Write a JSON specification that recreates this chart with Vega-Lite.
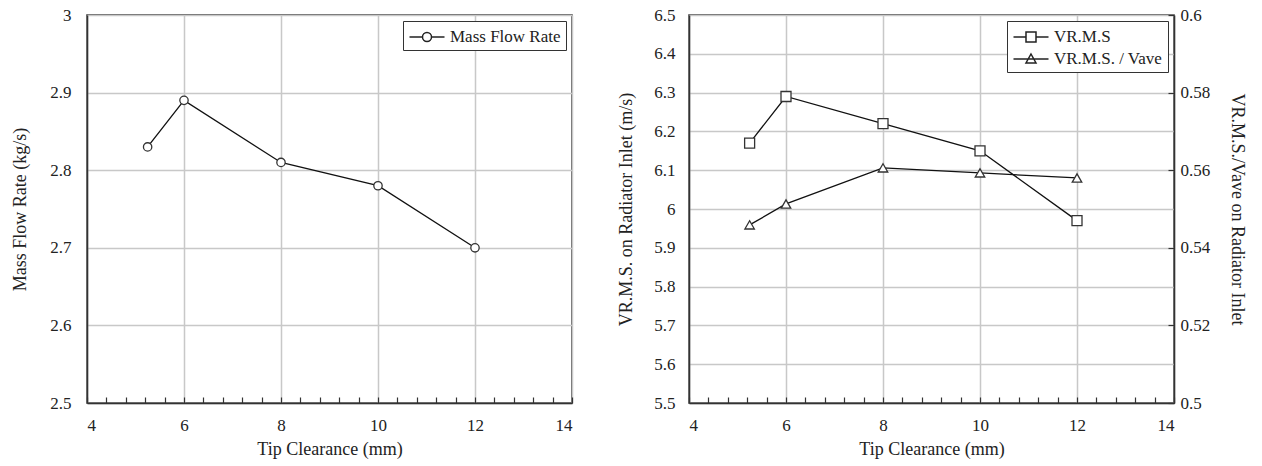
{
  "$schema": "https://vega.github.io/schema/vega-lite/v6.json",
  "padding": {"left": 11, "top": 5, "right": 2, "bottom": 1},
  "spacing": 43,
  "resolve": {"scale": {"shape": "independent"}, "legend": {"shape": "independent"}},
  "config": {
    "font": "Liberation Serif",
    "view": {"stroke": "#333", "strokeWidth": 1.5},
    "axis": {
      "labelFont": "Liberation Serif", "labelFontSize": 17, "labelColor": "#222",
      "titleFont": "Liberation Serif", "titleFontSize": 18, "titleFontWeight": "normal", "titleColor": "#222",
      "domainColor": "#333", "domainWidth": 1.5,
      "gridColor": "#c8c8c8", "gridWidth": 1.5,
      "tickColor": "#333", "tickWidth": 1.2, "labelPadding": 8
    },
    "legend": {
      "labelFont": "Liberation Serif", "labelFontSize": 17, "labelColor": "#222",
      "strokeColor": "#333", "fillColor": "white", "padding": 5, "offset": 6,
      "symbolSize": 400, "symbolOffset": 8, "rowPadding": 3, "labelOffset": 12
    }
  },
  "datasets": {
    "mass": [
      {"clearance": 5.25, "mfr": 2.83, "series": "Mass Flow Rate"},
      {"clearance": 6, "mfr": 2.89, "series": "Mass Flow Rate"},
      {"clearance": 8, "mfr": 2.81, "series": "Mass Flow Rate"},
      {"clearance": 10, "mfr": 2.78, "series": "Mass Flow Rate"},
      {"clearance": 12, "mfr": 2.70, "series": "Mass Flow Rate"}
    ],
    "vel": [
      {"clearance": 5.25, "series": "VR.M.S", "value": 6.17},
      {"clearance": 6, "series": "VR.M.S", "value": 6.29},
      {"clearance": 8, "series": "VR.M.S", "value": 6.22},
      {"clearance": 10, "series": "VR.M.S", "value": 6.15},
      {"clearance": 12, "series": "VR.M.S", "value": 5.97},
      {"clearance": 5.25, "series": "VR.M.S. / Vave", "value": 0.5459},
      {"clearance": 6, "series": "VR.M.S. / Vave", "value": 0.5513},
      {"clearance": 8, "series": "VR.M.S. / Vave", "value": 0.5606},
      {"clearance": 10, "series": "VR.M.S. / Vave", "value": 0.5593},
      {"clearance": 12, "series": "VR.M.S. / Vave", "value": 0.558}
    ]
  },
  "hconcat": [
    {
      "width": 485, "height": 388,
      "data": {"name": "mass"},
      "encoding": {
        "x": {"field": "clearance", "type": "quantitative",
          "scale": {"domain": [4, 14], "nice": false, "zero": false},
          "axis": {
            "values": [4, 4.4, 4.8, 5.2, 5.6, 6, 6.4, 6.8, 7.2, 7.6, 8, 8.4, 8.8, 9.2, 9.6, 10, 10.4, 10.8, 11.2, 11.6, 12, 12.4, 12.8, 13.2, 13.6, 14],
            "labelExpr": "datum.value % 2 === 0 ? format(datum.value, 'd') : ''",
            "gridOpacity": {"condition": {"test": "datum.value % 2 === 0", "value": 1}, "value": 0},
            "tickSize": -6, "labelPadding": 20, "title": "Tip Clearance (mm)", "titlePadding": 7
          }
        },
        "y": {"field": "mfr", "type": "quantitative",
          "scale": {"domain": [2.5, 3], "nice": false, "zero": false},
          "axis": {"values": [2.5, 2.6, 2.7, 2.8, 2.9, 3], "format": "~g", "tickSize": 0, "labelPadding": 16, "title": "Mass Flow Rate (kg/s)", "titlePadding": 20}
        }
      },
      "layer": [
        {"mark": {"type": "line", "color": "#111", "strokeWidth": 1.3}, "encoding": {}},
        {"mark": {"type": "point", "shape": "circle", "filled": true, "fill": "white", "stroke": "#333", "strokeWidth": 1.3, "size": 70, "opacity": 1}, "encoding": {}},
        {"transform": [{"filter": "datum.clearance < 0"}],
          "mark": {"type": "point", "filled": true, "fill": "white", "stroke": "#222", "strokeWidth": 1.3, "opacity": 1},
          "encoding": {
            "shape": {"field": "series", "type": "nominal",
              "scale": {"domain": ["Mass Flow Rate"], "range": ["M-1.75,0H-0.45M0.45,0H1.75M0.45,0A0.45,0.45,0,1,1,-0.45,0A0.45,0.45,0,1,1,0.45,0"]},
              "legend": {"title": null, "orient": "top-right"}}
          }
        }
      ]
    },
    {
      "width": 485, "height": 388,
      "data": {"name": "vel"},
      "encoding": {
        "x": {"field": "clearance", "type": "quantitative",
          "scale": {"domain": [4, 14], "nice": false, "zero": false},
          "axis": {
            "values": [4, 4.4, 4.8, 5.2, 5.6, 6, 6.4, 6.8, 7.2, 7.6, 8, 8.4, 8.8, 9.2, 9.6, 10, 10.4, 10.8, 11.2, 11.6, 12, 12.4, 12.8, 13.2, 13.6, 14],
            "labelExpr": "datum.value % 2 === 0 ? format(datum.value, 'd') : ''",
            "gridOpacity": {"condition": {"test": "datum.value % 2 === 0", "value": 1}, "value": 0},
            "tickSize": -6, "labelPadding": 20, "title": "Tip Clearance (mm)", "titlePadding": 7
          }
        }
      },
      "layer": [
        {
          "transform": [{"filter": "datum.series === 'VR.M.S'"}],
          "encoding": {
            "y": {"field": "value", "type": "quantitative",
              "scale": {"domain": [5.5, 6.5], "nice": false, "zero": false},
              "axis": {"values": [5.5, 5.6, 5.7, 5.8, 5.9, 6, 6.1, 6.2, 6.3, 6.4, 6.5], "format": "~g", "tickSize": 0, "labelPadding": 14, "title": "VR.M.S. on Radiator Inlet (m/s)", "titlePadding": 18}
            }
          },
          "layer": [
            {"mark": {"type": "line", "color": "#111", "strokeWidth": 1.3}, "encoding": {}},
            {"mark": {"type": "point", "shape": "square", "filled": true, "fill": "white", "stroke": "#333", "strokeWidth": 1.3, "size": 100, "opacity": 1}, "encoding": {}},
            {"transform": [{"filter": "datum.clearance < 0"}],
              "mark": {"type": "point", "filled": true, "fill": "white", "stroke": "#222", "strokeWidth": 1.3, "opacity": 1},
              "encoding": {
                "shape": {"field": "series", "type": "nominal",
                  "scale": {"domain": ["VR.M.S", "VR.M.S. / Vave"],
                    "range": ["M-1.75,0H-0.5M0.5,0H1.75M-0.5,-0.5H0.5V0.5H-0.5Z", "M-1.75,0H1.75M0,-0.5L0.5,0.4H-0.5Z"]},
                  "legend": {"title": null, "orient": "top-right"}
                }
              }
            }
          ]
        },
        {
          "transform": [{"filter": "datum.series === 'VR.M.S. / Vave'"}],
          "encoding": {
            "y": {"field": "value", "type": "quantitative",
              "scale": {"domain": [0.5, 0.6], "nice": false, "zero": false},
              "axis": {"orient": "right", "values": [0.5, 0.52, 0.54, 0.56, 0.58, 0.6], "format": "~g", "grid": false, "tickSize": -6, "labelPadding": 12, "title": "VR.M.S./Vave on Radiator Inlet", "titlePadding": 18}
            }
          },
          "layer": [
            {"mark": {"type": "line", "color": "#111", "strokeWidth": 1.3}, "encoding": {}},
            {"mark": {"type": "point", "shape": "triangle-up", "filled": true, "fill": "white", "stroke": "#333", "strokeWidth": 1.3, "size": 90, "opacity": 1}, "encoding": {}}
          ]
        }
      ],
      "resolve": {"scale": {"y": "independent"}}
    }
  ]
}
